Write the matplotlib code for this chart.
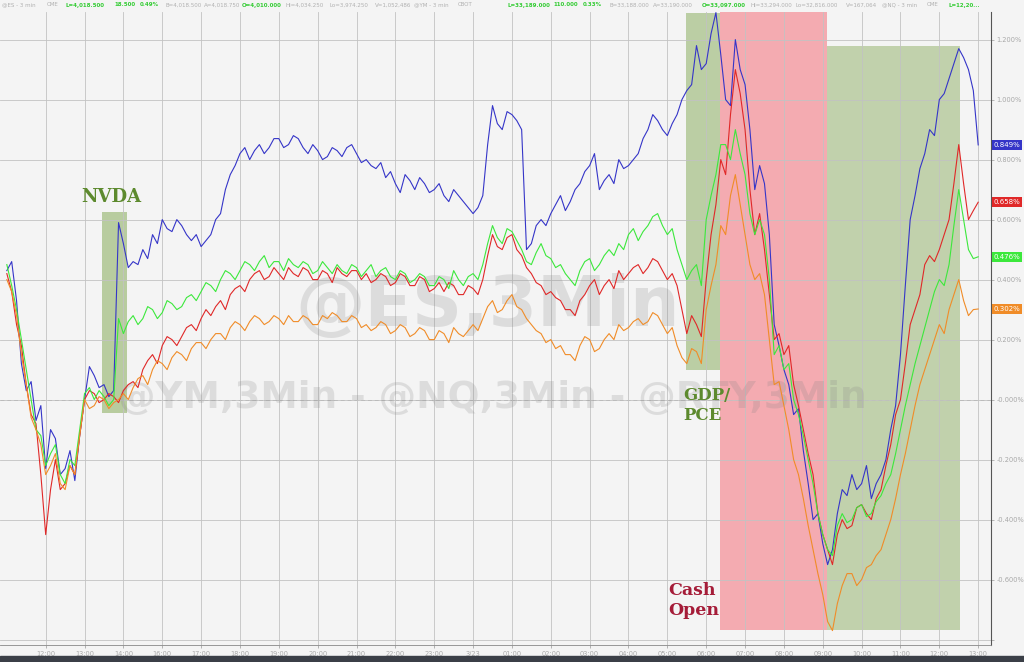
import numpy as np
import matplotlib.pyplot as plt
import matplotlib.transforms as mtransforms
from matplotlib.patches import Rectangle

# time axis: hour slots (15:00 is missing in the feed), one point every 7.5 min
tick_labels = ['12:00', '13:00', '14:00', '16:00', '17:00', '18:00', '19:00', '20:00',
               '21:00', '22:00', '23:00', '3/23', '01:00', '02:00', '03:00', '04:00',
               '05:00', '06:00', '07:00', '08:00', '09:00', '10:00', '11:00', '12:00', '13:00']
t = np.arange(-1.0, 24.001, 0.125)

# % change series
es_blue = [0.43, 0.46, 0.33, 0.12, 0.03, 0.06, -0.07, -0.02, -0.23, -0.10,
           -0.13, -0.25, -0.23, -0.17, -0.27, -0.12, 0.00, 0.11, 0.08, 0.04,
           0.05, 0.01, 0.03, 0.59, 0.52, 0.44, 0.46, 0.45, 0.50, 0.47,
           0.55, 0.52, 0.60, 0.57, 0.56, 0.60, 0.58, 0.55, 0.53, 0.55,
           0.51, 0.53, 0.55, 0.60, 0.62, 0.70, 0.75, 0.78, 0.82, 0.84,
           0.80, 0.83, 0.85, 0.82, 0.84, 0.87, 0.87, 0.84, 0.85, 0.88,
           0.87, 0.84, 0.82, 0.85, 0.83, 0.80, 0.81, 0.84, 0.83, 0.81,
           0.84, 0.85, 0.82, 0.79, 0.80, 0.78, 0.77, 0.79, 0.74, 0.76,
           0.72, 0.69, 0.75, 0.73, 0.70, 0.74, 0.72, 0.69, 0.70, 0.72,
           0.68, 0.66, 0.70, 0.68, 0.66, 0.64, 0.62, 0.64, 0.68, 0.85,
           0.98, 0.92, 0.90, 0.96, 0.95, 0.93, 0.90, 0.50, 0.52, 0.58,
           0.60, 0.58, 0.62, 0.65, 0.68, 0.63, 0.66, 0.70, 0.72, 0.76,
           0.78, 0.82, 0.70, 0.73, 0.75, 0.72, 0.80, 0.77, 0.78, 0.80,
           0.82, 0.87, 0.90, 0.95, 0.93, 0.90, 0.88, 0.92, 0.95, 1.00,
           1.03, 1.05, 1.18, 1.10, 1.12, 1.22, 1.29, 1.15, 1.00, 0.98,
           1.20, 1.10, 1.05, 0.90, 0.70, 0.78, 0.72, 0.55, 0.25, 0.18,
           0.10, 0.05, -0.05, -0.03, -0.17, -0.28, -0.40, -0.38, -0.48, -0.55,
           -0.50, -0.38, -0.30, -0.32, -0.25, -0.30, -0.28, -0.22, -0.33, -0.28,
           -0.25, -0.20, -0.10, -0.02, 0.15, 0.38, 0.60, 0.68, 0.77, 0.82,
           0.90, 0.88, 1.00, 1.02, 1.07, 1.12, 1.17, 1.14, 1.10, 1.03,
           0.849]
es_red = [0.42, 0.36, 0.25, 0.18, 0.05, -0.05, -0.08, -0.25, -0.45, -0.30,
          -0.20, -0.30, -0.28, -0.22, -0.25, -0.12, 0.00, 0.03, 0.02, -0.01,
          0.00, 0.02, 0.01, -0.01, 0.03, 0.05, 0.06, 0.04, 0.10, 0.13,
          0.15, 0.12, 0.18, 0.21, 0.20, 0.18, 0.21, 0.24, 0.25, 0.23,
          0.27, 0.30, 0.28, 0.31, 0.33, 0.30, 0.35, 0.37, 0.38, 0.36,
          0.40, 0.42, 0.43, 0.40, 0.41, 0.44, 0.42, 0.40, 0.44, 0.42,
          0.41, 0.44, 0.43, 0.40, 0.40, 0.43, 0.42, 0.39, 0.44, 0.42,
          0.41, 0.43, 0.43, 0.40, 0.42, 0.39, 0.40, 0.42, 0.41, 0.38,
          0.39, 0.42, 0.41, 0.38, 0.38, 0.41, 0.40, 0.36, 0.37, 0.39,
          0.36, 0.39, 0.38, 0.35, 0.35, 0.38, 0.37, 0.35, 0.40, 0.48,
          0.55, 0.51, 0.50, 0.54, 0.55, 0.50, 0.48, 0.44, 0.42, 0.39,
          0.38, 0.35, 0.36, 0.34, 0.33, 0.30, 0.30, 0.28, 0.33, 0.35,
          0.38, 0.40, 0.35, 0.38, 0.40, 0.37, 0.43, 0.40, 0.42, 0.44,
          0.45, 0.42, 0.44, 0.47, 0.46, 0.43, 0.40, 0.42, 0.38, 0.30,
          0.22, 0.28, 0.25, 0.21, 0.40, 0.55, 0.65, 0.80, 0.75, 0.95,
          1.10, 1.02, 0.90, 0.70, 0.55, 0.62, 0.50, 0.35, 0.20, 0.22,
          0.15, 0.18, 0.05, -0.02, -0.10, -0.18, -0.25, -0.38, -0.45, -0.50,
          -0.55, -0.45, -0.40, -0.43, -0.42, -0.36, -0.35, -0.38, -0.40, -0.33,
          -0.30, -0.22, -0.15, -0.05, 0.00, 0.12, 0.25, 0.30, 0.35, 0.45,
          0.48, 0.46, 0.50, 0.55, 0.60, 0.72, 0.85, 0.72, 0.60, 0.63,
          0.658]
es_green = [0.45, 0.38, 0.30, 0.20, 0.10, 0.00, -0.10, -0.12, -0.22, -0.18,
            -0.15, -0.25, -0.28, -0.20, -0.22, -0.10, 0.02, 0.04, 0.00, 0.03,
            0.01, -0.02, 0.00, 0.27, 0.22, 0.26, 0.28, 0.25, 0.27, 0.31,
            0.30, 0.27, 0.29, 0.33, 0.32, 0.30, 0.31, 0.34, 0.35, 0.33,
            0.36, 0.39, 0.38, 0.36, 0.40, 0.43, 0.42, 0.40, 0.43, 0.46,
            0.45, 0.43, 0.46, 0.48, 0.44, 0.46, 0.46, 0.43, 0.47, 0.45,
            0.44, 0.46, 0.45, 0.42, 0.43, 0.46, 0.44, 0.42, 0.45, 0.43,
            0.42, 0.45, 0.44, 0.41, 0.43, 0.45, 0.41, 0.43, 0.44, 0.41,
            0.40, 0.43, 0.42, 0.39, 0.40, 0.42, 0.41, 0.38, 0.38, 0.41,
            0.40, 0.37, 0.43, 0.40, 0.38, 0.41, 0.42, 0.40, 0.45, 0.52,
            0.58, 0.54, 0.52, 0.57, 0.56, 0.53, 0.50, 0.46, 0.45, 0.49,
            0.52, 0.48, 0.47, 0.44, 0.45, 0.42, 0.40, 0.38, 0.43, 0.46,
            0.47, 0.43, 0.45, 0.48, 0.50, 0.48, 0.52, 0.50, 0.55, 0.57,
            0.53, 0.56, 0.58, 0.61, 0.62, 0.58, 0.55, 0.57, 0.50, 0.45,
            0.40, 0.43, 0.45, 0.38, 0.60, 0.68, 0.75, 0.85, 0.85, 0.80,
            0.90, 0.82, 0.75, 0.62, 0.55, 0.60, 0.55, 0.40, 0.15, 0.18,
            0.10, 0.12, 0.00, -0.05, -0.12, -0.20, -0.28, -0.38, -0.45, -0.50,
            -0.52, -0.42, -0.38, -0.41, -0.40, -0.36, -0.35, -0.39, -0.38, -0.34,
            -0.32, -0.28, -0.25, -0.18, -0.10, -0.02, 0.05, 0.12, 0.18, 0.24,
            0.30, 0.36, 0.40, 0.38, 0.45, 0.58, 0.70, 0.60, 0.50, 0.47,
            0.476]
es_orange = [0.40, 0.36, 0.28, 0.15, 0.05, -0.06, -0.10, -0.15, -0.25, -0.22,
             -0.18, -0.28, -0.30, -0.22, -0.25, -0.12, 0.00, -0.03, -0.02, 0.01,
             0.00, -0.03, -0.01, 0.00, 0.02, 0.00, 0.04, 0.07, 0.08, 0.05,
             0.10, 0.13, 0.12, 0.10, 0.14, 0.16, 0.15, 0.13, 0.17, 0.19,
             0.19, 0.17, 0.20, 0.22, 0.22, 0.20, 0.24, 0.26, 0.25, 0.23,
             0.26, 0.28, 0.27, 0.25, 0.26, 0.28, 0.27, 0.25, 0.28, 0.26,
             0.26, 0.28, 0.27, 0.25, 0.25, 0.28, 0.27, 0.29, 0.28, 0.26,
             0.26, 0.28, 0.27, 0.24, 0.25, 0.23, 0.24, 0.26, 0.25, 0.22,
             0.23, 0.25, 0.24, 0.21, 0.22, 0.24, 0.23, 0.20, 0.20, 0.23,
             0.22, 0.19, 0.24, 0.22, 0.21, 0.23, 0.25, 0.23, 0.27, 0.31,
             0.33, 0.29, 0.30, 0.33, 0.35, 0.31, 0.30, 0.27, 0.25, 0.23,
             0.22, 0.19, 0.20, 0.17, 0.18, 0.15, 0.15, 0.13, 0.18, 0.21,
             0.20, 0.16, 0.17, 0.20, 0.22, 0.20, 0.25, 0.23, 0.24, 0.26,
             0.27, 0.25, 0.26, 0.29, 0.28, 0.25, 0.22, 0.24, 0.18, 0.14,
             0.12, 0.17, 0.16, 0.12, 0.30, 0.38, 0.45, 0.58, 0.55, 0.68,
             0.75, 0.65, 0.55, 0.45, 0.40, 0.42, 0.35, 0.20, 0.05, 0.06,
             -0.02, -0.10, -0.20, -0.25, -0.33, -0.42, -0.50, -0.58, -0.65, -0.74,
             -0.77, -0.68, -0.62, -0.58, -0.58, -0.62, -0.60, -0.56, -0.55, -0.52,
             -0.50, -0.45, -0.40, -0.33, -0.25, -0.18, -0.10, -0.02, 0.05, 0.10,
             0.15, 0.20, 0.25, 0.22, 0.30, 0.35, 0.40, 0.33, 0.28, 0.30,
             0.302]

series = [(es_blue, '#3535c8'), (es_red, '#e02828'), (es_green, '#3ce83c'), (es_orange, '#f08c28')]

bg = '#f4f4f4'
fig = plt.figure(figsize=(10.24, 6.62), dpi=100, facecolor=bg)
ax = fig.add_axes([0, 17 / 662, 991 / 1024, 633 / 662], facecolor=bg)
ax.set_xlim(-1.176, 24.33)
ax.set_ylim(-0.818, 1.292)

# event shading
ax.add_patch(Rectangle((1.45, -0.045), 0.64, 0.67, color='#a9c28a', alpha=0.8, lw=0, zorder=1))
ax.add_patch(Rectangle((16.48, 0.098), 0.88, 1.19, color='#a9c28a', alpha=0.75, lw=0, zorder=1))
ax.add_patch(Rectangle((17.36, -0.768), 2.75, 2.06, color='#f5a3aa', alpha=0.9, lw=0, zorder=1))
ax.add_patch(Rectangle((20.11, -0.768), 3.42, 1.946, color='#b5c99a', alpha=0.8, lw=0, zorder=1))

# grid
yt = np.arange(-0.8, 1.21, 0.2)
ax.set_xticks(range(len(tick_labels)))
ax.set_xticklabels(tick_labels)
ax.set_yticks(yt)
ax.set_yticklabels([''] + ['%.3f%%' % v for v in yt[1:]])
ax.grid(True, color='#c2c2c2', lw=0.6, zorder=0)
ax.axhline(0, color='#9a9a9a', lw=0.7, ls=(0, (4, 3)), zorder=0.5)
ax.yaxis.tick_right()
ax.tick_params(axis='both', colors='#a8a8a8', labelsize=4.8, length=2.5, width=0.6, pad=1.5)
for s in ['top', 'left']:
    ax.spines[s].set_visible(False)
ax.spines['right'].set_color('#555555')
ax.spines['bottom'].set_color('#888888')
ax.spines['bottom'].set_linewidth(0.6)

# watermark
ax.text(0.492, 0.535, '@ES,3Min', transform=ax.transAxes, ha='center', va='center',
        fontsize=50, fontweight='bold', color='#808080', alpha=0.2, zorder=2)
ax.text(0.497, 0.39, '@YM,3Min - @NQ,3Min - @RTY,3Min', transform=ax.transAxes,
        ha='center', va='center', fontsize=27, fontweight='bold', color='#808080',
        alpha=0.2, zorder=2)

for vals, c in series:
    ax.plot(t, vals, color=c, lw=0.8, zorder=3)

# event labels
ax.text(1.7, 0.645, 'NVDA', ha='center', va='bottom', fontsize=13, fontweight='bold',
        family='DejaVu Serif', color='#5d8a2e', zorder=4)
ax.text(16.4, -0.02, 'GDP/\nPCE', ha='left', va='center', fontsize=12, fontweight='bold',
        family='DejaVu Serif', color='#5d8a2e', linespacing=1.2, zorder=4)
ax.text(16.02, -0.67, 'Cash\nOpen', ha='left', va='center', fontsize=12.5, fontweight='bold',
        family='DejaVu Serif', color='#a51c38', linespacing=1.2, zorder=4)

# last-value badges
trans = mtransforms.blended_transform_factory(ax.transAxes, ax.transData)
for vals, c in series:
    ax.text(1.003, vals[-1], '%.3f%%' % vals[-1], transform=trans, ha='left', va='center',
            fontsize=5, color='white', clip_on=False, zorder=5,
            bbox=dict(boxstyle='square,pad=0.25', fc=c, ec='none'))

# header quote line
header = [
    ('@ES - 3 min', 0, '#b0b0b0'), ('CME', 45, '#b0b0b0'), ('L=4,018.500', 63, '#33cc33'),
    ('18.500', 112, '#33cc33'), ('0.49%', 138, '#33cc33'), ('B=4,018.500', 163, '#b0b0b0'),
    ('A=4,018.750', 202, '#b0b0b0'), ('O=4,010.000', 240, '#33cc33'), ('Hi=4,034.250', 283, '#b0b0b0'),
    ('Lo=3,974.250', 327, '#b0b0b0'), ('V=1,052,486', 373, '#b0b0b0'), ('@YM - 3 min', 412, '#b0b0b0'),
    ('CBOT', 456, '#b0b0b0'), ('L=33,189.000', 505, '#33cc33'), ('110.000', 551, '#33cc33'),
    ('0.33%', 581, '#33cc33'), ('B=33,188.000', 607, '#b0b0b0'), ('A=33,190.000', 651, '#b0b0b0'),
    ('O=33,097.000', 700, '#33cc33'), ('Hi=33,294.000', 748, '#b0b0b0'), ('Lo=32,816.000', 793, '#b0b0b0'),
    ('V=167,064', 844, '#b0b0b0'), ('@NQ - 3 min', 880, '#b0b0b0'), ('CME', 925, '#b0b0b0'),
    ('L=12,20...', 946, '#33cc33'),
]
for txt, px, c in header:
    fig.text(px / 1024 + 0.002, 1 - 5 / 662, txt, ha='left', va='center', fontsize=4.0,
             color=c, fontweight='bold' if c != '#b0b0b0' else 'normal')

# dark strip at the bottom
fig.patches.append(Rectangle((0, 0), 1, 6 / 662, transform=fig.transFigure,
                             color='#3b3f47', zorder=0))

fig.savefig('out.png', dpi=100, facecolor=bg)
